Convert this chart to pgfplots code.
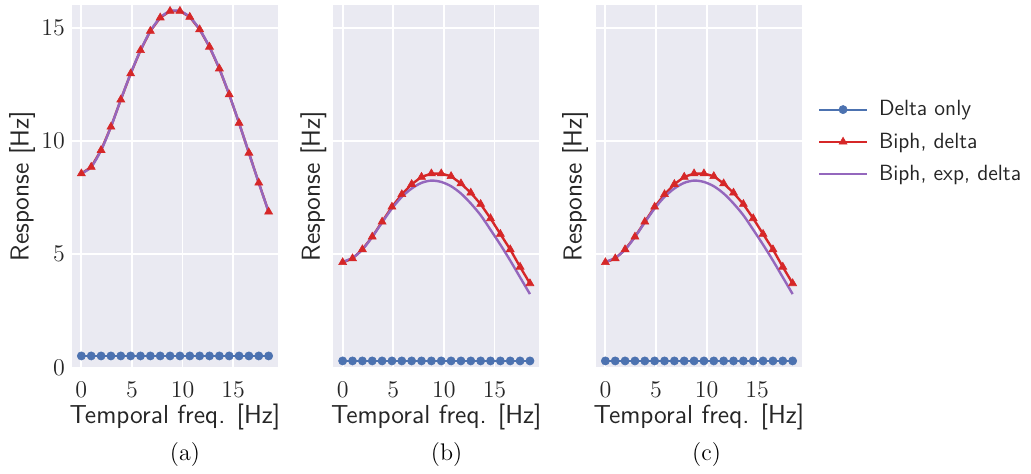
\documentclass[border=0pt]{standalone}
\usepackage{pgfplots}
\pgfplotsset{compat=1.18}
\usepackage{pgfplotstable}
\definecolor{bgc}{HTML}{EAEAF2}
\definecolor{cblue}{HTML}{4C72B0}
\definecolor{cred}{HTML}{D62728}
\definecolor{cpurp}{HTML}{9467BD}

\pgfplotstableread{
x d b e
0.000 0.51 8.56 8.56
0.974 0.51 8.85 8.85
1.947 0.51 9.59 9.59
2.921 0.51 10.62 10.62
3.895 0.51 11.82 11.82
4.868 0.51 12.97 12.97
5.842 0.51 14.00 14.00
6.816 0.51 14.85 14.85
7.789 0.51 15.44 15.44
8.763 0.51 15.73 15.73
9.737 0.51 15.73 15.73
10.711 0.51 15.47 15.47
11.684 0.51 14.92 14.92
12.658 0.51 14.15 14.15
13.632 0.51 13.19 13.19
14.605 0.51 12.05 12.05
15.579 0.51 10.79 10.79
16.553 0.51 9.47 9.47
17.526 0.51 8.15 8.15
18.500 0.51 6.87 6.87
}\tabA

\pgfplotstableread{
x d b e
0.000 0.29 4.64 4.66
0.974 0.29 4.81 4.84
1.947 0.29 5.21 5.20
2.921 0.29 5.77 5.76
3.895 0.29 6.43 6.40
4.868 0.29 7.09 7.02
5.842 0.29 7.64 7.53
6.816 0.29 8.09 7.90
7.789 0.29 8.41 8.15
8.763 0.29 8.56 8.25
9.737 0.29 8.56 8.19
10.711 0.29 8.44 8.00
11.684 0.29 8.12 7.68
12.658 0.29 7.71 7.24
13.632 0.29 7.21 6.72
14.605 0.29 6.58 6.08
15.579 0.29 5.89 5.42
16.553 0.29 5.21 4.72
17.526 0.29 4.44 3.98
18.500 0.29 3.71 3.24
}\tabB

\pgfplotsset{
  panel/.style={
    anchor=south west,
    scale only axis,
    width=103pt, height=181.25pt,
    xmin=-0.925, xmax=19.425, ymin=0, ymax=16,
    xtick={0,5,10,15}, ytick={0,5,10,15},
    grid=major,
    major grid style={white, line width=0.9pt},
    axis background/.style={fill=bgc},
    axis line style={draw=none},
    tick style={draw=none},
    tick label style={font=\fontsize{12.5}{14}\selectfont, text=black!85},
    xticklabel style={yshift=-3.8pt},
    label style={font=\sffamily\fontsize{13}{15}\selectfont, text=black!85},
    xlabel={Temporal freq. [Hz]},
    ylabel={Response [Hz]},
    xlabel style={at={(axis description cs:0.5,0)}, anchor=center, yshift=-25pt},
    clip=false,
  },
  sdelta/.style={color=cblue, line width=1.2pt, mark=*, mark size=2.05pt, mark options={solid, fill=cblue, draw=cblue, line width=0.3pt}},
  sbiph/.style={color=cred, line width=1.2pt, mark=triangle*, mark size=2.3pt, mark options={solid, fill=cred, draw=cred, line width=0.3pt}},
  sexp/.style={color=cpurp, line width=1.2pt, no marks, smooth},
}

\begin{document}
\begin{tikzpicture}
\path (0,0) rectangle (515.5pt,236.5pt);

\begin{axis}[panel, at={(36pt,52.75pt)},
  ylabel style={at={(axis description cs:0,0.5)}, anchor=center, yshift=25pt}]
\addplot[sdelta] table[x=x,y=d] {\tabA};
\addplot[sbiph] table[x=x,y=b] {\tabA};
\addplot[sexp] table[x=x,y=e] {\tabA};
\end{axis}

\begin{axis}[panel, at={(166.65pt,52.75pt)}, yticklabels={},
  ylabel style={at={(axis description cs:0,0.5)}, anchor=center, yshift=10pt}]
\addplot[sdelta] table[x=x,y=d] {\tabB};
\addplot[sbiph] table[x=x,y=b] {\tabB};
\addplot[sexp] table[x=x,y=e] {\tabB};
\end{axis}

\begin{axis}[panel, at={(298pt,52.75pt)}, yticklabels={},
  ylabel style={at={(axis description cs:0,0.5)}, anchor=center, yshift=10.5pt},
  legend style={at={(1.076,0.746)}, anchor=north west, draw=none, fill=none,
    inner sep=0pt, row sep=4pt, column sep=4pt,
    font=\sffamily\fontsize{11}{13}\selectfont,
    nodes={text=black!85, inner sep=1.5pt}},
  legend cell align=left,
  legend image code/.code={\draw[mark repeat=2,mark phase=2,#1,line width=1pt] plot coordinates {(0pt,0pt) (12pt,0pt) (24pt,0pt)};}]
\addplot[sdelta] table[x=x,y=d] {\tabB};
\addplot[sbiph] table[x=x,y=b] {\tabB};
\addplot[sexp] table[x=x,y=e] {\tabB};
\legend{Delta only, {Biph, delta}, {Biph, exp, delta}}
\end{axis}

\node[font=\fontsize{12}{14}\selectfont] at (92.5pt,9pt) {(a)};
\node[font=\fontsize{12}{14}\selectfont] at (223.3pt,9pt) {(b)};
\node[font=\fontsize{12}{14}\selectfont] at (353.3pt,9pt) {(c)};
\end{tikzpicture}
\end{document}
